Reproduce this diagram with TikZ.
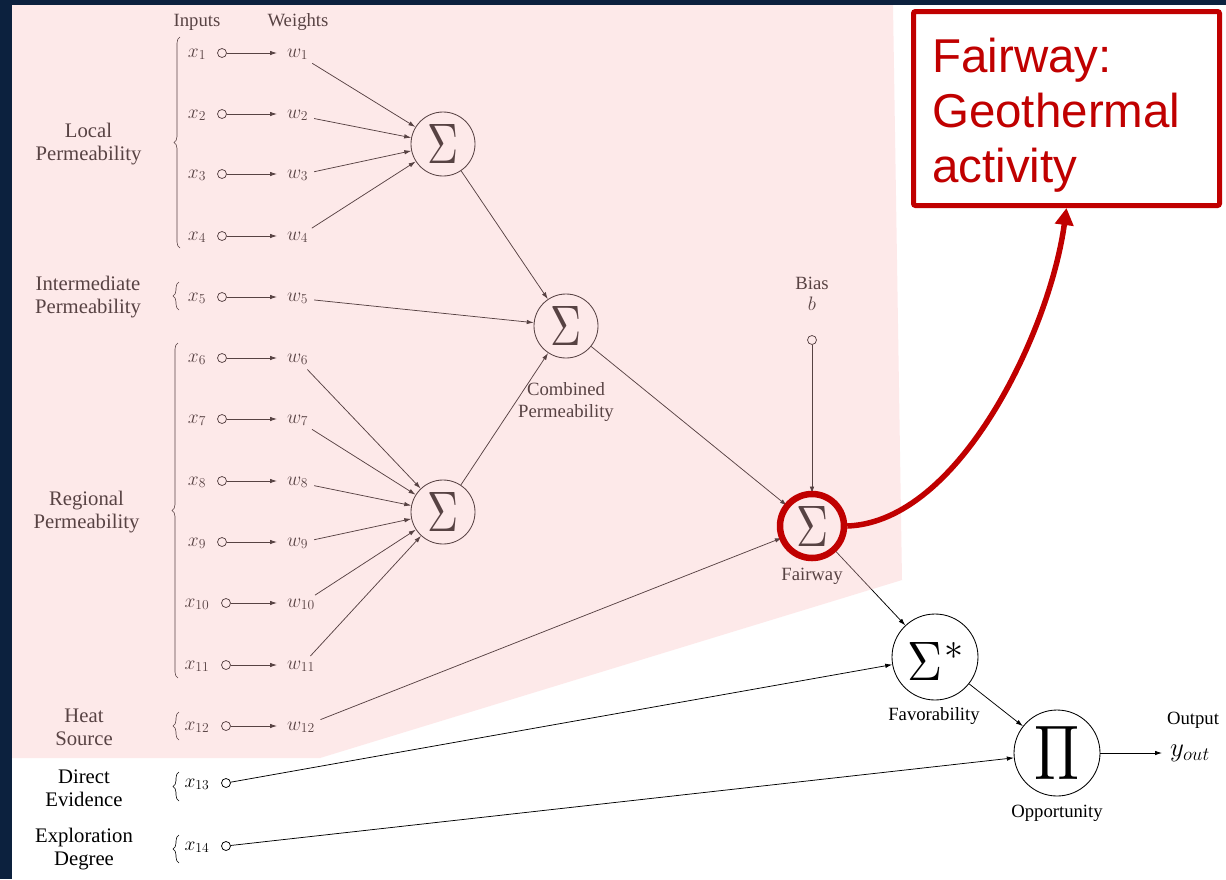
\documentclass[tikz,border=0pt]{standalone}
\usepackage{fix-cm}
\usepackage{fontspec}
\setmainfont{Liberation Serif}
\newfontfamily\annofont{Liberation Sans}
\usepackage{graphicx}
\usetikzlibrary{arrows.meta,decorations.pathreplacing,calc}

\definecolor{navy}{RGB}{12,33,62}
\definecolor{hlred}{RGB}{192,0,0}
\definecolor{pinkwash}{RGB}{252,192,194}

% two centred lines, baseline on the first one
\newcommand{\twolines}[2]{\begin{tabular}[t]{@{}c@{}}#1\\#2\end{tabular}}

\tikzset{
  lbl/.style={font=\fontsize{18.7}{22}\selectfont, inner sep=0pt},
  grp/.style={font=\fontsize{20.7}{23}\selectfont, inner sep=0pt, anchor=base},
  mth/.style={font=\fontsize{19.5}{21}\selectfont, inner sep=0pt},
  port/.style={circle, draw, line width=0.75pt, minimum size=9pt, inner sep=0pt},
  sumnode/.style={circle, draw, line width=0.85pt, minimum size=64pt, inner sep=0pt},
  bignode/.style={circle, draw, line width=0.85pt, minimum size=86pt, inner sep=0pt},
  conn/.style={line width=0.75pt, -{Latex[length=7pt,width=4.5pt]}},
  grpbrace/.style={line width=0.6pt, decorate, decoration={brace, amplitude=6pt}},
  anno/.style={font=\annofont\fontsize{47.5}{55}\selectfont, text=hlred, inner sep=0pt, anchor=base west},
}

\begin{document}
\begin{tikzpicture}[x=1pt, y=-1pt]
\useasboundingbox (0,0) rectangle (1226,879);
\fill[white] (0,0) rectangle (1226,879);

% column headers
\node[lbl, anchor=base] (hin) at (197,26) {Inputs};
\node[lbl, anchor=base] (hw) at (298,26) {Weights};

% inputs and their ports
\foreach \i/\y/\cx in {1/53/222, 2/114/222, 3/174/222, 4/236/222, 5/297/222,
    6/358/222, 7/419/222, 8/481/222, 9/542/222, 10/603/226, 11/665/226,
    12/726/226, 13/783/226, 14/846/226} {
  \node[mth, anchor=base] (x\i) at (197,\y+4) {$x_{\i}$};
  \node[port] (c\i) at (\cx,\y) {};
}

% weights
\foreach \i/\y in {1/53, 2/114, 3/174, 4/236, 5/297, 6/358, 7/419, 8/481,
    9/542, 10/603, 11/665, 12/726} {
  \node[mth, anchor=base west] (w\i) at (287,\y+4) {$w_{\i}$};
  \draw[conn, shorten >=10pt] (c\i) -- (c\i -| w\i.west);
}

% group labels and braces
\node[grp] (gloc) at (88.5,137) {\twolines{Local}{Permeability}};
\node[grp] (gint) at (88,290.5) {\twolines{Intermediate}{Permeability}};
\node[grp] (greg) at (86.5,505) {\twolines{Regional}{Permeability}};
\node[grp] (gheat) at (84,722) {\twolines{Heat}{Source}};
\node[grp] (gdir) at (84,783) {\twolines{Direct}{Evidence}};
\node[grp] (gexp) at (84,842) {\twolines{Exploration}{Degree}};

\draw[grpbrace] (180,248) -- (180,37);
\draw[grpbrace] (179,310) -- (179,282);
\draw[grpbrace] (178,678) -- (178,343);
\draw[grpbrace] (179,740) -- (179,712);
\draw[grpbrace] (179,801) -- (179,772);
\draw[grpbrace] (179,863) -- (179,835);

% summing units
\node[sumnode] (S1) at (443,144) {\resizebox{31pt}{39pt}{$\Sigma$}};
\node[sumnode] (S2) at (566,326) {\resizebox{31pt}{39pt}{$\Sigma$}};
\node[sumnode] (S3) at (443,512) {\resizebox{31pt}{39pt}{$\Sigma$}};
\node[sumnode] (fair) at (812,526) {\resizebox{32pt}{40pt}{$\Sigma$}};
\node[bignode, text height=46pt, text depth=0pt] (fav) at (935,657)
  {\resizebox{35pt}{38pt}{$\Sigma$}\hspace{2pt}\raisebox{21pt}{\resizebox{19pt}{17pt}{$\ast$}}};
\node[bignode] (opp) at (1057,753) {\resizebox{45pt}{53pt}{$\Pi$}};

\node[lbl, anchor=base] (lcomb) at (566,395) {\fontsize{18.7}{22}\selectfont\twolines{Combined}{Permeability}};
\node[lbl, anchor=base] (lfair) at (812,580) {Fairway};
\node[lbl, anchor=base] (lfav) at (934,720) {Favorability};
\node[lbl, anchor=base] (lopp) at (1057,817) {Opportunity};
\node[lbl, anchor=base] (lout) at (1193,724) {Output};
\node[font=\fontsize{27}{30}\selectfont, inner sep=0pt, anchor=base west] (yout) at (1170,756) {$y_{out}$};

% bias
\node[lbl, anchor=base] (lbias) at (812,289) {Bias};
\node[mth, anchor=base] (lb) at (812,310) {$b$};
\node[port] (bias) at (812,340) {};

% connections
\foreach \i in {1,...,4} \draw[conn, shorten <=6pt] (w\i) -- (S1);
\foreach \i in {6,...,11} \draw[conn, shorten <=6pt] (w\i) -- (S3);
\draw[conn, shorten <=6pt] (w5) -- (S2);
\draw[conn, shorten <=6pt] (w12) -- (fair);
\draw[conn] (S1) -- (S2);
\draw[conn] (S3) -- (S2);
\draw[conn] (S2) -- (fair);
\draw[conn] (bias) -- (fair);
\draw[conn] (fair) -- (fav);
\draw[conn] (c13) -- (fav);
\draw[conn] (fav) -- (opp);
\draw[conn] (c14) -- (opp);
\draw[conn, shorten >=8pt] (opp.east) -- (opp.east -| yout.west);

% shaded fairway region
\fill[pinkwash, opacity=0.35] (12,5) -- (893,5) -- (902,580) -- (320,758) -- (12,758) -- cycle;

% highlight of the fairway unit
\node[circle, draw=hlred, line width=6.5pt, minimum size=64pt, inner sep=0pt] (ring) at (fair) {};
\node[draw=hlred, line width=5pt, rounded corners=2pt, fill=white,
      minimum width=306pt, minimum height=194pt, inner sep=0pt] (note) at (1066.5,108.5) {};
\node[anno] (n1) at (932,72) {Fairway:};
\node[anno] (n2) at (932,127) {Geothermal};
\node[anno] (n3) at (932,182) {activity};
\draw[hlred, line width=5.5pt, -{Triangle[length=17pt,width=18pt]}]
  (ring.east) .. controls (960,522) and (1050,330) .. (note.south);

% frame
\fill[navy] (0,0) rectangle (12,879);
\fill[navy] (0,0) rectangle (1226,5);
\end{tikzpicture}
\end{document}
